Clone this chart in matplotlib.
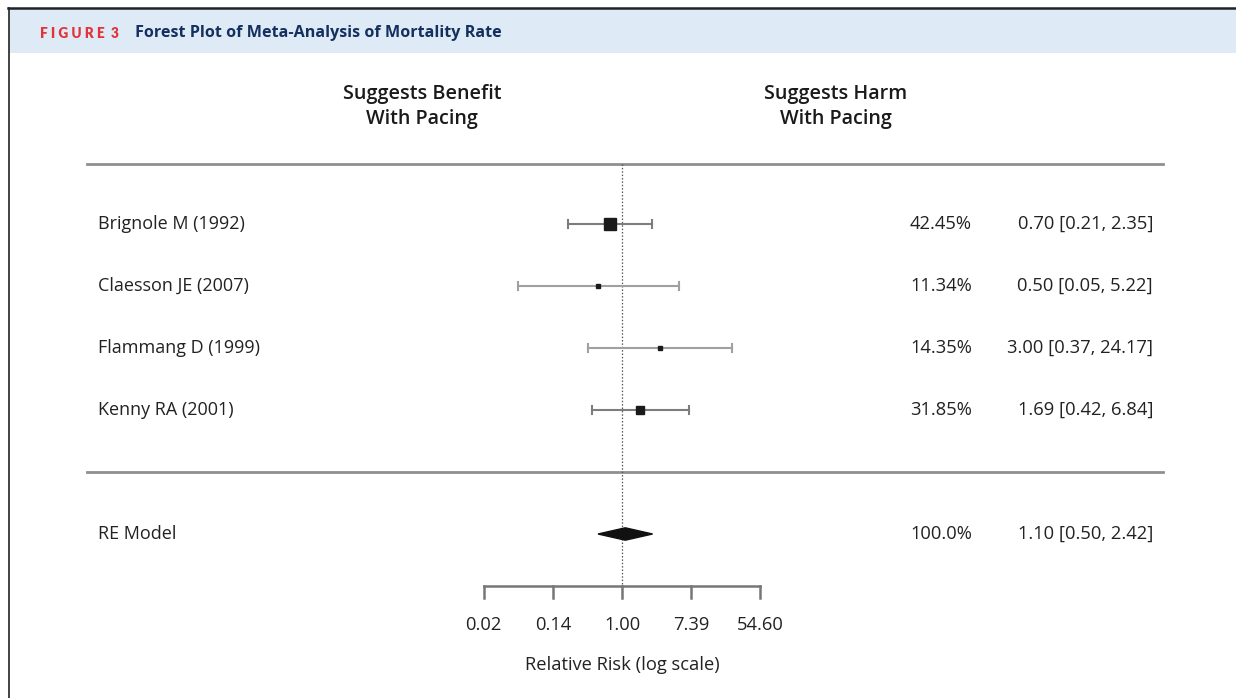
import numpy as np
import matplotlib.pyplot as plt
from matplotlib.patches import Rectangle
from matplotlib.transforms import blended_transform_factory

# study data
studies = ["Brignole M (1992)", "Claesson JE (2007)", "Flammang D (1999)", "Kenny RA (2001)"]
rr = [0.70, 0.50, 3.00, 1.69]
ci_lo = [0.21, 0.05, 0.37, 0.42]
ci_hi = [2.35, 5.22, 24.17, 6.84]
weights = [42.45, 11.34, 14.35, 31.85]

# random-effects summary
re_label = "RE Model"
re_rr = 1.10
re_lo = 0.50
re_hi = 2.42
re_weight = 100.0

tick_logs = [-4, -2, 0, 2, 4]

plt.rcParams['font.family'] = ['Open Sans', 'DejaVu Sans']

W, H = 1236, 698
fig = plt.figure(figsize=(W / 100, H / 100), dpi=100)
fig.patch.set_facecolor("white")

# header band and frame
fig.patches.append(Rectangle((9 / W, 1 - 53 / H), 1, 44 / H, transform=fig.transFigure,
                             facecolor="#deeaf6", edgecolor="none", zorder=0))
fig.add_artist(plt.Line2D([8 / W, 1], [1 - 8 / H, 1 - 8 / H], transform=fig.transFigure,
                          color="#222222", lw=1.8))
fig.add_artist(plt.Line2D([8.5 / W, 8.5 / W], [0, 1 - 8 / H], transform=fig.transFigure,
                          color="#222222", lw=1.2))
fig.text(40 / W, 1 - 33 / H, "F I G U R E  3", color="#e2333a", fontsize=9.8, fontweight="heavy",
         va="center", ha="left", family=["Lato", "DejaVu Sans"])
fig.text(135 / W, 1 - 33 / H, "Forest Plot of Meta-Analysis of Mortality Rate", color="#14305e",
         fontsize=11.6, fontweight="bold", va="center", ha="left")

# main axes over whole figure: x = ln(RR), y = row
ax = fig.add_axes([0, 0, 1, 1])
ax.set_xlim(-622 / 34.6, (W - 622) / 34.6)
ax.set_ylim((H - 162) / 62, -162 / 62)
ax.axis("off")
ax.patch.set_alpha(0)

bt = blended_transform_factory(ax.transAxes, ax.transData)
ylab = 13.2

rows = np.arange(1, len(studies) + 1)
re_row = len(studies) + 2
top_line = 0.03
mid_line = len(studies) + 1
axis_row = 6.84

# horizontal separators
for yy in [top_line, mid_line]:
    ax.plot([87 / W, 1163 / W], [yy, yy], transform=bt, color="#8f8f8f", lw=2)

# reference line
ax.plot([0, 0], [top_line, axis_row], color="#555555", lw=0.9, ls=(0, (1.2, 1.5)))

cap = 0.065
for r, est, lo, hi, w in zip(rows, rr, ci_lo, ci_hi, weights):
    l, h = np.log(lo), np.log(hi)
    col = "#7d7d7d" if w > 20 else "#a0a0a0"
    ax.plot([l, h], [r, r], color=col, lw=1.5, zorder=2)
    ax.plot([l, l], [r - cap, r + cap], color=col, lw=1.5, zorder=2)
    ax.plot([h, h], [r - cap, r + cap], color=col, lw=1.5, zorder=2)
    ax.plot(np.log(est), r, marker="s", ms=w * 0.2, color="#1a1a1a", mec="#1a1a1a", zorder=3)

# summary diamond
dh = 0.1
ax.fill([np.log(re_lo), np.log(re_rr), np.log(re_hi), np.log(re_rr)],
        [re_row, re_row - dh, re_row, re_row + dh], color="#111111", zorder=3)

# text columns
labels = studies + [re_label]
allrows = list(rows) + [re_row]
wts = weights + [re_weight]
ests = rr + [re_rr]
los = ci_lo + [re_lo]
his = ci_hi + [re_hi]
for lab, r, w, e, lo, hi in zip(labels, allrows, wts, ests, los, his):
    ax.text(98 / W, r, lab, transform=bt, ha="left", va="center", fontsize=13, color="#222222")
    wtxt = f"{w:.1f}%" if w >= 100 else f"{w:.2f}%"
    ax.text(972 / W, r, wtxt, transform=bt, ha="right", va="center", fontsize=ylab, color="#222222")
    ax.text(1153 / W, r, f"{e:.2f} [{lo:.2f}, {hi:.2f}]", transform=bt, ha="right",
            va="center", fontsize=ylab, color="#222222")

# x axis
ax.plot([tick_logs[0], tick_logs[-1]], [axis_row, axis_row], color="#777777", lw=1.8)
for t in tick_logs:
    ax.plot([t, t], [axis_row, axis_row + 0.19], color="#777777", lw=1.8)
    ax.text(t, axis_row + 0.63, f"{np.exp(t):.2f}", ha="center", va="center", fontsize=ylab,
            color="#222222")
ax.text(0, axis_row + 1.27, "Relative Risk (log scale)", ha="center", va="center",
        fontsize=13.2, color="#222222")

# direction headers
for xpx, txt in [(422, "Suggests Benefit\nWith Pacing"), (836, "Suggests Harm\nWith Pacing")]:
    fig.text(xpx / W, 1 - 106.5 / H, txt, ha="center", va="center", fontsize=14.2,
             fontweight="semibold", color="#1a1a1a", linespacing=1.3)

fig.savefig("out.png", dpi=100)
